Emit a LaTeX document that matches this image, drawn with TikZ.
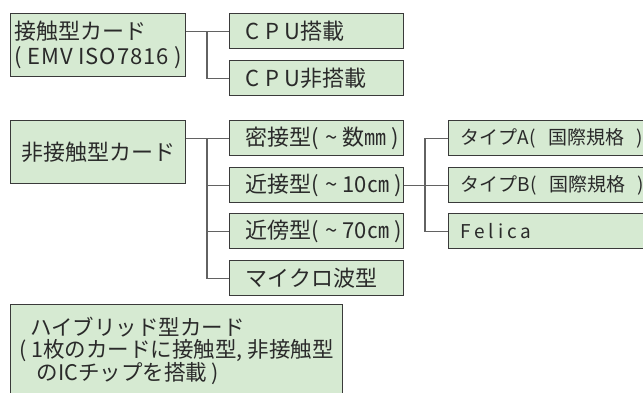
\documentclass[tikz,border=0pt]{standalone}
\usepackage{fontspec}
\newfontfamily\jp{Noto Sans CJK JP}
\definecolor{cardfill}{HTML}{D6EAD2}
\definecolor{cardline}{HTML}{3A3A3A}
\definecolor{linkgray}{HTML}{626262}
\definecolor{ink}{HTML}{2A2A2A}
\newcommand\gap{\hspace{0.3em}}
\begin{document}
\begin{tikzpicture}[x=1pt,y=-1pt,
  card/.style={draw=cardline,fill=cardfill,line width=1.2pt,anchor=north west,inner ysep=0pt,text=ink,font=\jp\fontsize{22}{25}\selectfont},
  rootbox/.style={card,align=left,inner xsep=0pt,minimum width=175pt,minimum height=63pt},
  linebox/.style 2 args={card,inner xsep=0pt,minimum width=#1,minimum height=35pt,
    execute at begin node={\hbox to #1\bgroup\hskip#2},execute at end node={\hss\egroup}},
  subbox/.style={linebox={174pt}{16pt}},
  typebox/.style={linebox={220pt}{12pt},font=\jp\fontsize{19}{22}\selectfont},
  link/.style={draw=linkgray,line width=1.2pt}]
\useasboundingbox (0,0) rectangle (643,392);
\clip (0,0) rectangle (643,392);
\node[rootbox] (contact) at (10,13) {接触型カード\\{\addfontfeature{LetterSpace=4}( EMV ISO7816 )}};
\node[subbox] (cpu) at (229,13) {{\addfontfeature{LetterSpace=25}CPU}搭載};
\node[subbox] (nocpu) at (229,60) {{\addfontfeature{LetterSpace=25}CPU}非搭載};
\node[rootbox] (contactless) at (10,120) {非接触型カード};
\node[subbox] (mitsu) at (229,120) {密接型(\gap\textasciitilde{} 数㎜ )};
\node[subbox] (kinsetsu) at (229,167) {近接型(\gap\textasciitilde{} 10㎝ )};
\node[subbox] (kinbou) at (229,213) {近傍型(\gap\textasciitilde{} 70㎝ )};
\node[subbox] (micro) at (229,260) {マイクロ波型};
\node[typebox] (typea) at (448,120) {タイプA(\hspace{0.7em}国際規格\hspace{0.6em})};
\node[typebox] (typeb) at (448,167) {タイプB(\hspace{0.7em}国際規格\hspace{0.6em})};
\node[typebox] (felica) at (448,213) {{\addfontfeature{LetterSpace=20}Felica}};
\node[card,align=left,inner xsep=4pt,minimum width=332pt,minimum height=92pt,font=\jp\fontsize{21.5}{22}\selectfont] (hybrid) at (10,304)
  {\hspace{0.5em}ハイブリッド型カード\\( 1枚のカードに接触型, 非接触型\\\hspace{0.8em}のICチップを搭載 )};
\coordinate (trunk) at (207,0);
\coordinate (branch) at (425,0);
\draw[link] (contact.east |- cpu.west) -- (cpu.west);
\draw[link] (trunk |- cpu.west) |- (nocpu.west);
\draw[link] (contactless.east |- mitsu.west) -- (mitsu.west);
\draw[link] (trunk |- mitsu.west) |- (micro.west);
\draw[link] (trunk |- kinsetsu.west) -- (kinsetsu.west) (trunk |- kinbou.west) -- (kinbou.west);
\draw[link] (kinsetsu.east) -- (typeb.west);
\draw[link] (branch |- typea.west) -- (typea.west);
\draw[link] (branch |- typea.west) |- (felica.west);
\end{tikzpicture}
\end{document}
